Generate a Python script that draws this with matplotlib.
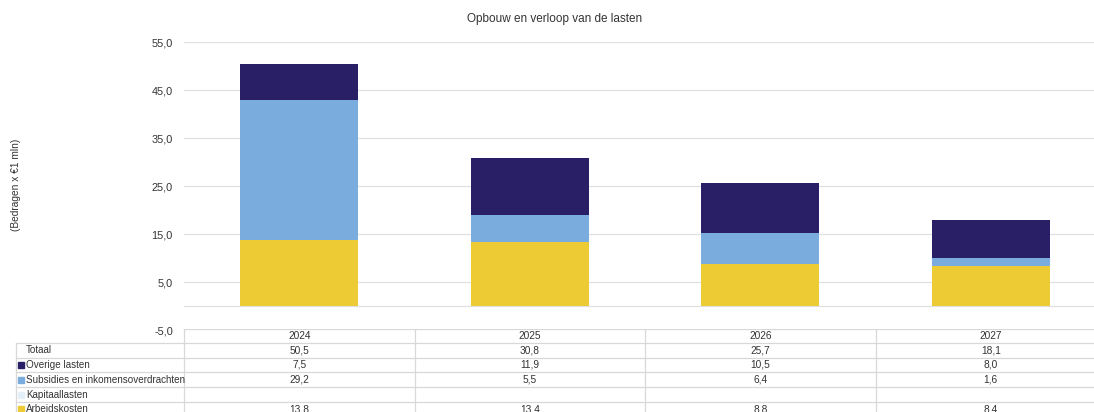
import matplotlib
matplotlib.use('Agg')
import matplotlib.pyplot as plt
import numpy as np

plt.rcParams['font.family'] = ['Liberation Sans', 'DejaVu Sans']

# Data
jaren = ['2024', '2025', '2026', '2027']
arbeidskosten = [13.8, 13.4, 8.8, 8.4]
kapitaallasten = [0.0, 0.0, 0.0, 0.0]
subsidies = [29.2, 5.5, 6.4, 1.6]
overige = [7.5, 11.9, 10.5, 8.0]
totaal = [50.5, 30.8, 25.7, 18.1]

series = [
    ('Arbeidskosten', arbeidskosten, '#EDCB35'),
    ('Kapitaallasten', kapitaallasten, '#E3EFF9'),
    ('Subsidies en inkomensoverdrachten', subsidies, '#7AACDE'),
    ('Overige lasten', overige, '#281F66'),
]

W, H = 1094, 412
fig = plt.figure(figsize=(W / 100, H / 100), dpi=100)

# main chart axes (pixel based placement; right edge runs past the image like the source)
ax_l, ax_r, ax_t, ax_b = 184, 1106, 42, 330
ax = fig.add_axes([ax_l / W, 1 - ax_b / H, (ax_r - ax_l) / W, (ax_b - ax_t) / H])

x = np.arange(len(jaren))
bottom = np.zeros(len(jaren))
for naam, vals, kleur in series:
    ax.bar(x, vals, width=0.51, bottom=bottom, color=kleur, zorder=3)
    bottom += np.array(vals)

ax.set_xlim(-0.5, len(jaren) - 0.5)
ax.set_ylim(-5, 55)
yticks = [-5, 5, 15, 25, 35, 45, 55]
ax.set_yticks(yticks)
ax.set_yticklabels([f'{v:.1f}'.replace('.', ',') for v in yticks], fontsize=7.8, color='#333333')
ax.set_xticks([])
ax.tick_params(axis='y', length=0, pad=8)
ax.grid(axis='y', color='#e0e0e0', linewidth=0.9, zorder=0)
ax.axhline(0, color='#e0e0e0', linewidth=0.9, zorder=0)
for s in ax.spines.values():
    s.set_visible(False)

fig.text(555 / W, 1 - 19 / H, 'Opbouw en verloop van de lasten', ha='center', va='center',
         fontsize=8.5, color='#333333')
fig.text(16 / W, 1 - 185 / H, '(Bedragen x €1 mln)', rotation=90, ha='center', va='center',
         fontsize=7.3, color='#333333')

# data table underneath
tab = fig.add_axes([15 / W, 1 - 416 / H, (1106 - 15) / W, (416 - 329) / H])
tab.set_xlim(15, 1106)
tab.set_ylim(416, 329)
tab.axis('off')

col_edges = [184 + i * 230.5 for i in range(len(jaren) + 1)]
row_edges = [329, 343, 357.5, 372, 387, 402, 416.5]
lijn = '#d8d8d8'

# horizontal lines
tab.plot([184, 1106], [329, 329], color=lijn, lw=0.9)
for yy in row_edges[1:-1]:
    tab.plot([16, 1106], [yy, yy], color=lijn, lw=0.9)
# vertical lines
for xx in col_edges:
    tab.plot([xx, xx], [329, 416.5], color=lijn, lw=0.9)
tab.plot([16, 16], [343, 416.5], color=lijn, lw=0.9)

def fmt(v):
    return f'{v:.1f}'.replace('.', ',')

tab_rows = [('Totaal', totaal, None)]
for naam, vals, kleur in reversed(series):
    tab_rows.append((naam, vals, kleur))

# header
for i, j in enumerate(jaren):
    cx = (col_edges[i] + col_edges[i + 1]) / 2
    tab.text(cx, (row_edges[0] + row_edges[1]) / 2, j, ha='center', va='center', fontsize=7.3, color='#333333')

for r, (naam, vals, kleur) in enumerate(tab_rows):
    cy = (row_edges[r + 1] + row_edges[r + 2]) / 2
    if kleur is not None:
        tab.add_patch(plt.Rectangle((18, cy - 3), 6, 6, color=kleur))
    tab.text(26, cy, naam, ha='left', va='center', fontsize=7.1, color='#333333')
    for i, v in enumerate(vals):
        if naam == 'Kapitaallasten' and v == 0:
            continue
        cx = (col_edges[i] + col_edges[i + 1]) / 2
        tab.text(cx, cy, fmt(v), ha='center', va='center', fontsize=7.3, color='#333333')

fig.savefig('out.png', dpi=100)
